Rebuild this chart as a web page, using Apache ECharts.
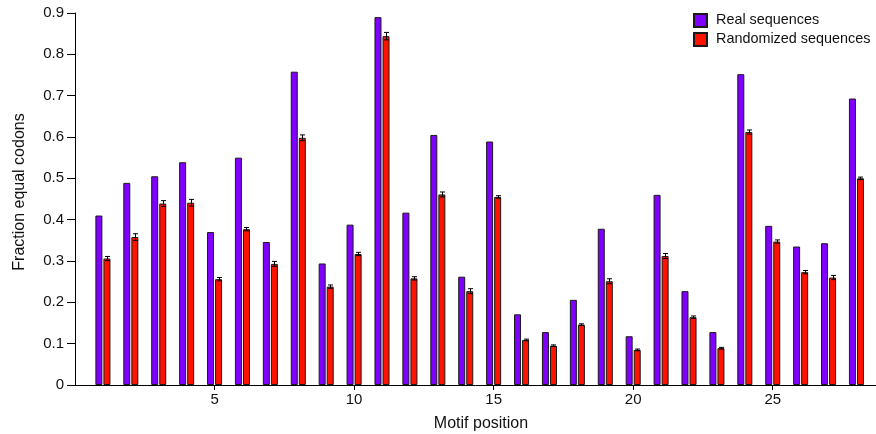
<!DOCTYPE html>
<html>
<head>
<meta charset="utf-8">
<title>Fraction equal codons by motif position</title>
<script src="https://cdn.jsdelivr.net/npm/echarts@6/dist/echarts.min.js"></script>
<style>
  html, body { margin: 0; padding: 0; background: #fff; }
  #chart { width: 876px; height: 434px; }
</style>
</head>
<body>
<div id="chart"></div>
<script>
// Motif positions 1..28
const positions = [1, 2, 3, 4, 5, 6, 7, 8, 9, 10, 11, 12, 13, 14, 15, 16, 17, 18, 19, 20, 21, 22, 23, 24, 25, 26, 27, 28];

// Fraction of equal codons in real sequences
const realValues = [0.410, 0.489, 0.505, 0.539, 0.370, 0.550, 0.346, 0.758, 0.294, 0.388,
                    0.890, 0.417, 0.605, 0.262, 0.589, 0.171, 0.128, 0.206, 0.378, 0.118,
                    0.460, 0.227, 0.128, 0.752, 0.385, 0.335, 0.343, 0.693];

// Fraction of equal codons in randomized sequences (mean) and its error
const randomValues = [0.306, 0.358, 0.439, 0.441, 0.256, 0.377, 0.293, 0.598, 0.238, 0.317,
                      0.844, 0.258, 0.461, 0.227, 0.455, 0.109, 0.095, 0.146, 0.251, 0.085,
                      0.312, 0.164, 0.089, 0.612, 0.347, 0.273, 0.260, 0.500];
const randomErrors = [0.005, 0.008, 0.007, 0.008, 0.004, 0.004, 0.006, 0.007, 0.004, 0.004,
                      0.009, 0.004, 0.006, 0.006, 0.003, 0.002, 0.002, 0.002, 0.006, 0.002,
                      0.006, 0.003, 0.002, 0.005, 0.004, 0.004, 0.005, 0.003];

const xTicks = [5, 10, 15, 20, 25];
const seriesNames = ['Real sequences', 'Randomized sequences'];

const FONT = 'Liberation Sans, Arial, Helvetica, sans-serif';
const BAR_W = 7;
const BAR_GAP = 0.15;                       // fraction of bar width
const RED_OFFSET = (BAR_W + BAR_W * BAR_GAP) / 2;  // centre of the second bar relative to the tick

const chart = echarts.init(document.getElementById('chart'), null, { renderer: 'canvas' });

const realData = positions.map((p, i) => [p, realValues[i]]);
const randomData = positions.map((p, i) => [p, randomValues[i]]);
const errorData = positions.map((p, i) => [p, randomValues[i] - randomErrors[i], randomValues[i] + randomErrors[i]]);

function renderErrorBar(params, api) {
  const x = api.value(0);
  const lo = api.coord([x, api.value(1)]);
  const hi = api.coord([x, api.value(2)]);
  const cx = Math.round(lo[0] + RED_OFFSET) + 0.5;
  const cap = 2.5;
  const style = { stroke: '#000', lineWidth: 1 };
  return {
    type: 'group',
    children: [
      { type: 'line', shape: { x1: cx, y1: lo[1], x2: cx, y2: hi[1] }, style: style },
      { type: 'line', shape: { x1: cx - cap, y1: hi[1], x2: cx + cap, y2: hi[1] }, style: style },
      { type: 'line', shape: { x1: cx - cap, y1: lo[1], x2: cx + cap, y2: lo[1] }, style: style }
    ]
  };
}

const option = {
  animation: false,
  backgroundColor: '#fff',
  textStyle: { fontFamily: FONT },
  grid: { left: 75, right: 0, top: 13, bottom: 49, containLabel: false },
  legend: {
    data: seriesNames,
    orient: 'vertical',
    left: 693,
    top: 13,
    padding: 0,
    itemWidth: 13,
    itemHeight: 13,
    itemGap: 4,
    icon: 'rect',
    textStyle: { fontFamily: FONT, fontSize: 14.4, color: '#111', padding: [0, 0, 0, 4] }
  },
  xAxis: {
    type: 'value',
    min: 0,
    max: 28.7,
    interval: 5,
    splitLine: { show: false },
    axisLine: { show: true, onZero: false, lineStyle: { color: '#000', width: 1 } },
    axisTick: { show: true, length: 5, customValues: xTicks, lineStyle: { color: '#000' } },
    axisLabel: {
      fontFamily: FONT, fontSize: 15, color: '#111', margin: 7,
      customValues: xTicks,
      formatter: v => String(v)
    }
  },
  yAxis: {
    type: 'value',
    min: 0,
    max: 0.9,
    interval: 0.1,
    splitLine: { show: false },
    axisLine: { show: true, lineStyle: { color: '#000', width: 1 } },
    axisTick: { show: true, length: 8, lineStyle: { color: '#000' } },
    axisLabel: {
      fontFamily: FONT, fontSize: 15, color: '#111', margin: 11,
      formatter: v => (v === 0 ? '0' : v.toFixed(1))
    }
  },
  graphic: [
    {
      type: 'text',
      x: 20, y: 192,
      rotation: Math.PI / 2,
      style: {
        text: 'Fraction equal codons',
        fontFamily: FONT, fontSize: 16, fill: '#111',
        align: 'center', verticalAlign: 'middle'
      }
    },
    {
      type: 'text',
      x: 481, y: 424,
      style: {
        text: 'Motif position',
        fontFamily: FONT, fontSize: 16, fill: '#111',
        align: 'center', verticalAlign: 'middle'
      }
    }
  ],
  series: [
    {
      name: seriesNames[0],
      type: 'bar',
      data: realData,
      barWidth: BAR_W,
      barGap: (BAR_GAP * 100) + '%',
      itemStyle: { color: '#7f00ff', borderColor: '#1a1a1a', borderWidth: 1 }
    },
    {
      name: seriesNames[1],
      type: 'bar',
      data: randomData,
      barWidth: BAR_W,
      barGap: (BAR_GAP * 100) + '%',
      itemStyle: { color: '#ff1200', borderColor: '#1a1a1a', borderWidth: 1 }
    },
    {
      name: 'error',
      type: 'custom',
      data: errorData,
      encode: { x: 0, y: [1, 2] },
      renderItem: renderErrorBar,
      z: 5
    }
  ]
};

chart.setOption(option);
</script>
</body>
</html>
